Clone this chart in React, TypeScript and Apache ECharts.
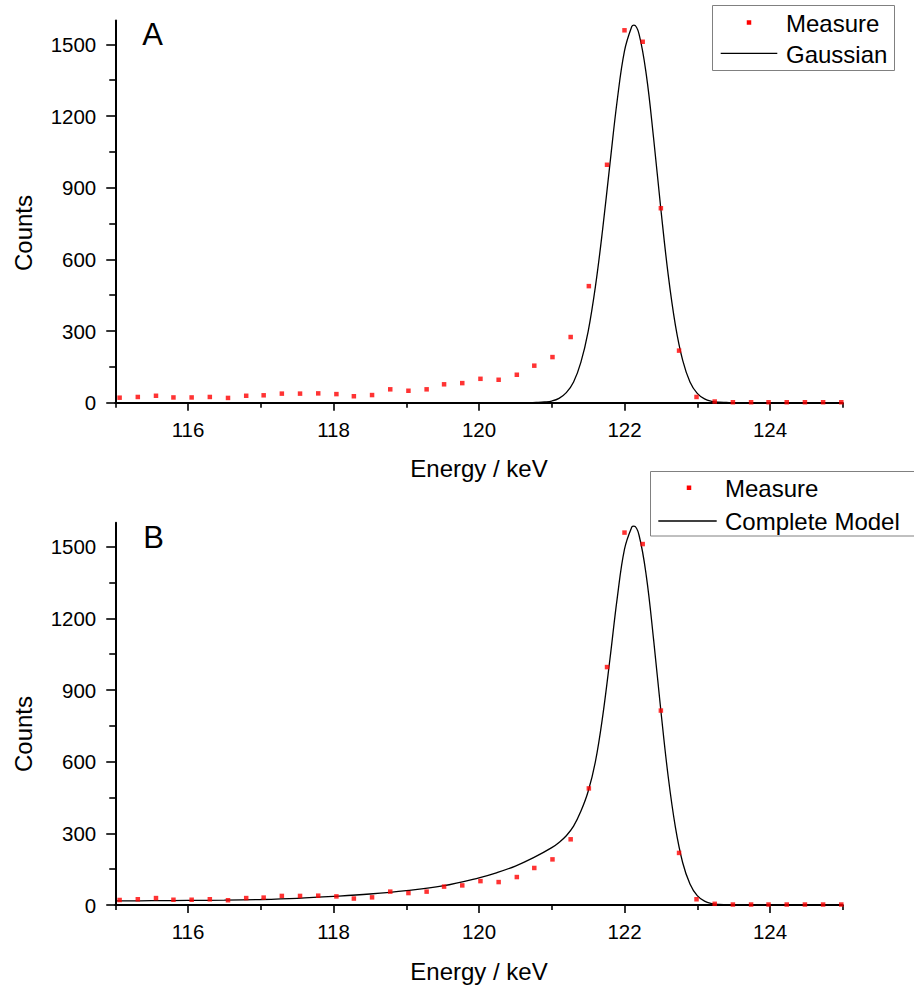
import React, { useEffect, useRef } from "react";
import * as echarts from "echarts";

// Measured spectrum (same in both panels)
const measEnergy = [115.06, 115.31, 115.56, 115.8, 116.05, 116.3, 116.55, 116.8, 117.04, 117.29, 117.54, 117.79, 118.04, 118.28, 118.53, 118.78, 119.03, 119.28, 119.52, 119.77, 120.02, 120.27, 120.52, 120.76, 121.01, 121.26, 121.51, 121.76, 122.0, 122.25, 122.5, 122.75, 122.99, 123.24, 123.49, 123.74, 123.98, 124.23, 124.48, 124.73, 124.98];
const measCounts = [21, 24, 29, 22, 22, 24, 20, 29, 31, 38, 38, 39, 36, 27, 32, 56, 50, 56, 77, 82, 100, 96, 117, 155, 191, 275, 488, 996, 1559, 1511, 814, 218, 24, 5, 2, 2, 2, 2, 2, 2, 2];

// Gaussian fit curve (panel A)
const gaussEnergy = [115, 120.7, 120.8, 120.9, 121.0, 121.1, 121.2, 121.3, 121.4, 121.5, 121.6, 121.7, 121.8, 121.9, 122.0, 122.1, 122.13, 122.2, 122.3, 122.4, 122.5, 122.6, 122.7, 122.8, 122.9, 123.0, 123.1, 123.2, 123.3, 123.4, 123.5, 125];
const gaussCounts = [0, 0, 1, 3, 7, 18, 42, 87, 169, 298, 486, 727, 1000, 1266, 1473, 1575, 1581, 1543, 1372, 1107, 810, 537, 324, 177, 87, 39, 16, 6, 2, 1, 0, 0];

// Complete model curve (panel B)
const modelEnergy = [115, 115.5, 116, 116.5, 117, 117.5, 118, 118.5, 119, 119.5, 120, 120.25, 120.5, 120.75, 121.0, 121.1, 121.2, 121.3, 121.4, 121.5, 121.6, 121.7, 121.8, 121.9, 122.0, 122.1, 122.13, 122.2, 122.3, 122.4, 122.5, 122.6, 122.7, 122.8, 122.9, 123.0, 123.1, 123.2, 123.3, 123.4, 123.5, 125];
const modelCounts = [17, 18, 19, 20, 23, 28, 36, 46, 60, 80, 114, 136, 163, 198, 240, 262, 290, 330, 392, 475, 600, 790, 1030, 1285, 1490, 1582, 1586, 1548, 1377, 1111, 813, 539, 325, 177, 88, 39, 16, 6, 2, 1, 0, 0];

// Axis ticks
const xMajorTicks = [116, 118, 120, 122, 124];
const xMinorTicks = [115, 117, 119, 121, 123, 125];
const yMajorTicks = [0, 300, 600, 900, 1200, 1500];
const yMinorTicks = [150, 450, 750, 1050, 1350];

const FONT = "'Liberation Sans', Arial, Helvetica, sans-serif";

function zip(xs: number[], ys: number[]) {
  return xs.map((x, i) => [x, ys[i]]);
}

function buildOption() {
  const gridTops = [20.5, 522.8];
  const grids = gridTops.map((top) => ({
    left: 115.25,
    width: 727.5,
    top,
    height: 382.2,
    containLabel: false,
  }));

  const plain = (v: number) => String(v);

  const xAxes: any[] = [];
  const yAxes: any[] = [];
  gridTops.forEach((_, g) => {
    xAxes.push({
      type: "value",
      gridIndex: g,
      position: "bottom",
      min: 115,
      max: 125,
      name: "Energy / keV",
      nameLocation: "middle",
      nameGap: 54,
      nameTextStyle: { fontSize: 24, color: "#000", fontFamily: FONT },
      axisLine: { show: true, onZero: false, lineStyle: { color: "#000", width: 2 } },
      axisTick: { show: true, customValues: xMajorTicks, length: 8, lineStyle: { color: "#000", width: 1.6 } },
      axisLabel: { show: true, customValues: xMajorTicks, formatter: plain, fontSize: 20.5, color: "#000", fontFamily: FONT, margin: 16 },
      splitLine: { show: false },
    });
    xAxes.push({
      type: "value",
      gridIndex: g,
      position: "bottom",
      min: 115,
      max: 125,
      axisLine: { show: false },
      axisTick: { show: true, customValues: xMinorTicks, length: 5, lineStyle: { color: "#000", width: 1.6 } },
      axisLabel: { show: false },
      splitLine: { show: false },
    });
    yAxes.push({
      type: "value",
      gridIndex: g,
      position: "left",
      min: 0,
      max: 1600,
      axisLine: { show: true, onZero: false, lineStyle: { color: "#000", width: 2 } },
      axisTick: { show: true, customValues: yMajorTicks, length: 9, lineStyle: { color: "#000", width: 1.6 } },
      axisLabel: { show: true, customValues: yMajorTicks, formatter: plain, fontSize: 20.5, color: "#000", fontFamily: FONT, margin: 19 },
      splitLine: { show: false },
    });
    yAxes.push({
      type: "value",
      gridIndex: g,
      position: "left",
      min: 0,
      max: 1600,
      axisLine: { show: false },
      axisTick: { show: true, customValues: yMinorTicks, length: 6, lineStyle: { color: "#000", width: 1.6 } },
      axisLabel: { show: false },
      splitLine: { show: false },
    });
  });

  const scatterStyle = {
    type: "scatter",
    symbol: "rect",
    symbolSize: 4.5,
    itemStyle: { color: "#ff0000" },
    z: 3,
  };
  const lineStyle = {
    type: "line",
    smooth: 0.4,
    showSymbol: false,
    symbol: "none",
    lineStyle: { color: "#000", width: 1.3 },
    z: 2,
  };

  const series = [
    { ...lineStyle, name: "Gaussian", xAxisIndex: 0, yAxisIndex: 0, data: zip(gaussEnergy, gaussCounts) },
    { ...scatterStyle, name: "Measure", xAxisIndex: 0, yAxisIndex: 0, data: zip(measEnergy, measCounts) },
    { ...lineStyle, name: "Complete Model", xAxisIndex: 2, yAxisIndex: 2, data: zip(modelEnergy, modelCounts) },
    { ...scatterStyle, name: "Measure", xAxisIndex: 2, yAxisIndex: 2, data: zip(measEnergy, measCounts) },
  ];

  const textStyle = (text: string, fontSize: number, extra: any = {}) => ({
    text,
    fontSize,
    fontFamily: FONT,
    fill: "#000",
    verticalAlign: "middle",
    ...extra,
  });

  const graphic: any[] = [
    // Panel letters
    { type: "text", x: 152.5, y: 34, style: textStyle("A", 31, { align: "center" }) },
    { type: "text", x: 153.5, y: 537.5, style: textStyle("B", 31, { align: "center" }) },
    // y axis titles
    { type: "text", x: 23, y: 233, rotation: Math.PI / 2, style: textStyle("Counts", 24, { align: "center" }) },
    { type: "text", x: 23, y: 734, rotation: Math.PI / 2, style: textStyle("Counts", 24, { align: "center" }) },
    // Legend A
    { type: "rect", shape: { x: 712.5, y: 5.5, width: 182, height: 65 }, style: { fill: "#fff", stroke: "#808080", lineWidth: 1 }, z: 10 },
    { type: "rect", shape: { x: 746.75, y: 20.25, width: 4.5, height: 4.5 }, style: { fill: "#ff0000" }, z: 11 },
    { type: "text", x: 786, y: 23, style: textStyle("Measure", 24, { align: "left" }), z: 11 },
    { type: "line", shape: { x1: 720.7, y1: 53.3, x2: 777.3, y2: 53.3 }, style: { stroke: "#000", lineWidth: 1.3 }, z: 11 },
    { type: "text", x: 786, y: 54, style: textStyle("Gaussian", 24, { align: "left" }), z: 11 },
    // Legend B
    { type: "rect", shape: { x: 650.5, y: 471.5, width: 280, height: 64.5 }, style: { fill: "#fff", stroke: "#808080", lineWidth: 1 }, z: 10 },
    { type: "rect", shape: { x: 686.75, y: 485.5, width: 4.5, height: 4.5 }, style: { fill: "#ff0000" }, z: 11 },
    { type: "text", x: 725, y: 488, style: textStyle("Measure", 24, { align: "left" }), z: 11 },
    { type: "line", shape: { x1: 658.3, y1: 521, x2: 716.7, y2: 521 }, style: { stroke: "#000", lineWidth: 1.3 }, z: 11 },
    { type: "text", x: 725, y: 521.5, style: textStyle("Complete Model", 24, { align: "left" }), z: 11 },
  ];

  return {
    animation: false,
    backgroundColor: "#fff",
    textStyle: { fontFamily: FONT },
    grid: grids,
    xAxis: xAxes,
    yAxis: yAxes,
    series,
    graphic,
  };
}

export default function App() {
  const ref = useRef<HTMLDivElement>(null);
  useEffect(() => {
    document.body.style.margin = "0";
    const el = ref.current;
    if (!el) return;
    const chart = echarts.init(el, null, { renderer: "svg" });
    chart.setOption(buildOption() as any);
    return () => {
      chart.dispose();
    };
  }, []);
  return <div ref={ref} style={{ width: 914, height: 988 }} />;
}
